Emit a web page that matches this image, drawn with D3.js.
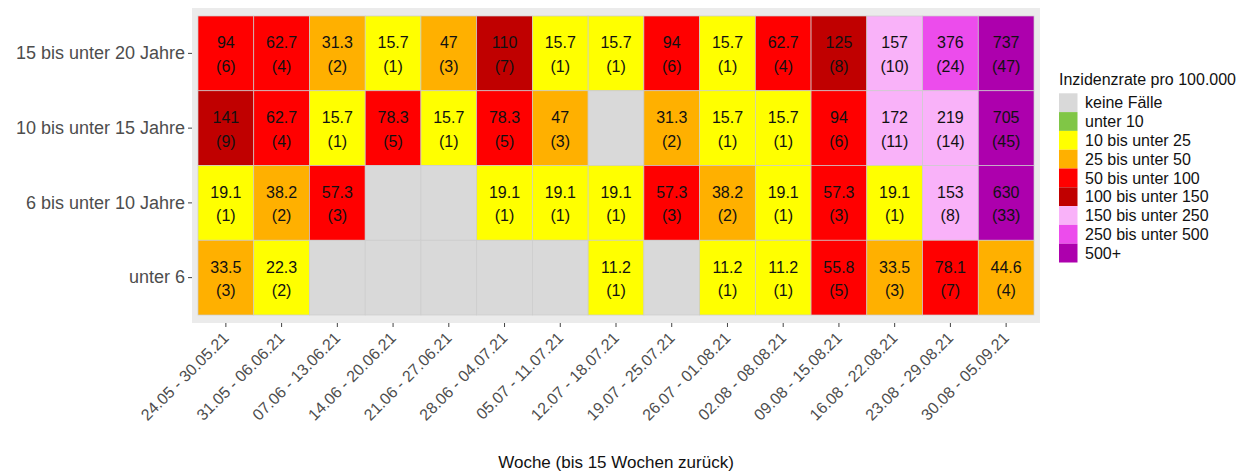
<!DOCTYPE html>
<html>
<head>
<meta charset="utf-8">
<script src="https://cdn.jsdelivr.net/npm/d3@7"></script>
<style>
  html, body { margin: 0; padding: 0; background: #ffffff; }
  svg { display: block; font-family: "Liberation Sans", Arial, sans-serif; }
</style>
</head>
<body>
<svg id="chart" width="1253" height="472"></svg>
<script>
// ---- data ----
const weeks = ["24.05 - 30.05.21", "31.05 - 06.06.21", "07.06 - 13.06.21", "14.06 - 20.06.21",
  "21.06 - 27.06.21", "28.06 - 04.07.21", "05.07 - 11.07.21", "12.07 - 18.07.21",
  "19.07 - 25.07.21", "26.07 - 01.08.21", "02.08 - 08.08.21", "09.08 - 15.08.21",
  "16.08 - 22.08.21", "23.08 - 29.08.21", "30.08 - 05.09.21"];
const ageGroups = ["15 bis unter 20 Jahre", "10 bis unter 15 Jahre", "6 bis unter 10 Jahre", "unter 6"];

const rate15to20 = [94, 62.7, 31.3, 15.7, 47, 110, 15.7, 15.7, 94, 15.7, 62.7, 125, 157, 376, 737];
const cases15to20 = [6, 4, 2, 1, 3, 7, 1, 1, 6, 1, 4, 8, 10, 24, 47];
const rate10to15 = [141, 62.7, 15.7, 78.3, 15.7, 78.3, 47, null, 31.3, 15.7, 15.7, 94, 172, 219, 705];
const cases10to15 = [9, 4, 1, 5, 1, 5, 3, null, 2, 1, 1, 6, 11, 14, 45];
const rate6to10 = [19.1, 38.2, 57.3, null, null, 19.1, 19.1, 19.1, 57.3, 38.2, 19.1, 57.3, 19.1, 153, 630];
const cases6to10 = [1, 2, 3, null, null, 1, 1, 1, 3, 2, 1, 3, 1, 8, 33];
const rateUnder6 = [33.5, 22.3, null, null, null, null, null, 11.2, null, 11.2, 11.2, 55.8, 33.5, 78.1, 44.6];
const casesUnder6 = [3, 2, null, null, null, null, null, 1, null, 1, 1, 5, 3, 7, 4];

const legendLabels = ["keine Fälle", "unter 10", "10 bis unter 25", "25 bis unter 50", "50 bis unter 100",
  "100 bis unter 150", "150 bis unter 250", "250 bis unter 500", "500+"];
const thresholds = [10, 25, 50, 100, 150, 250, 500];
const legendColors = ["#d9d9d9", "#80c646", "#ffff00", "#ffb000", "#ff0000", "#c00000", "#f9b2f9", "#ec4cec", "#ad00ad"];

// ---- build cells ----
const rateRows = [rate15to20, rate10to15, rate6to10, rateUnder6];
const caseRows = [cases15to20, cases10to15, cases6to10, casesUnder6];
const cells = [];
ageGroups.forEach((g, i) => {
  weeks.forEach((w, j) => {
    cells.push({ group: g, week: w, rate: rateRows[i][j], cases: caseRows[i][j] });
  });
});

const svg = d3.select("#chart");

const x = d3.scaleBand().domain(weeks).range([198, 1034]).padding(0);
const y = d3.scaleBand().domain(ageGroups).range([16, 315]).padding(0);
const color = d3.scaleThreshold().domain(thresholds).range(legendColors.slice(1));
const fillOf = d => (d.rate == null ? legendColors[0] : color(d.rate));

// panel background
svg.append("rect")
  .attr("x", 192).attr("y", 8)
  .attr("width", 1040 - 192).attr("height", 323 - 8)
  .attr("fill", "#ebebeb");

// tiles
svg.append("g").selectAll("rect")
  .data(cells)
  .join("rect")
  .attr("x", d => x(d.week))
  .attr("y", d => y(d.group))
  .attr("width", x.bandwidth())
  .attr("height", y.bandwidth())
  .attr("fill", fillOf)
  .attr("stroke", "#cccccc")
  .attr("stroke-width", 0.7);

// tile labels
const lab = svg.append("g").attr("font-size", 16).attr("fill", "#111").attr("text-anchor", "middle");
const withData = cells.filter(d => d.rate != null);
lab.selectAll("text.rate")
  .data(withData)
  .join("text")
  .attr("class", "rate")
  .attr("x", d => x(d.week) + x.bandwidth() / 2)
  .attr("y", d => y(d.group) + y.bandwidth() / 2 - 10.5)
  .attr("dy", "0.35em")
  .text(d => String(d.rate));
lab.selectAll("text.cases")
  .data(withData)
  .join("text")
  .attr("class", "cases")
  .attr("x", d => x(d.week) + x.bandwidth() / 2)
  .attr("y", d => y(d.group) + y.bandwidth() / 2 + 13)
  .attr("dy", "0.35em")
  .text(d => "(" + d.cases + ")");

// y axis
const yAxis = svg.append("g")
  .attr("transform", "translate(192,0)")
  .call(d3.axisLeft(y).tickSize(4).tickPadding(3));
yAxis.select(".domain").remove();
yAxis.selectAll(".tick line").attr("stroke", "#444");
yAxis.selectAll(".tick text")
  .attr("font-size", 18)
  .attr("font-family", "Liberation Sans, Arial, sans-serif")
  .attr("fill", "#4d4d4d");

// x axis
const xAxis = svg.append("g")
  .attr("transform", "translate(0,323)")
  .call(d3.axisBottom(x).tickSize(4).tickPadding(4));
xAxis.select(".domain").remove();
xAxis.selectAll(".tick line").attr("stroke", "#444");
xAxis.selectAll(".tick text")
  .attr("font-size", 16)
  .attr("font-family", "Liberation Sans, Arial, sans-serif")
  .attr("fill", "#4d4d4d")
  .attr("text-anchor", "end")
  .attr("dy", null)
  .attr("y", null)
  .attr("transform", "translate(4,16) rotate(-45)");

// x axis title
svg.append("text")
  .attr("x", (192 + 1040) / 2)
  .attr("y", 468)
  .attr("text-anchor", "middle")
  .attr("font-size", 17)
  .attr("fill", "#111")
  .text("Woche (bis 15 Wochen zurück)");

// legend
const leg = svg.append("g").attr("transform", "translate(1059,0)");
leg.append("text")
  .attr("x", 0).attr("y", 85)
  .attr("font-size", 16)
  .attr("fill", "#111")
  .text("Inzidenzrate pro 100.000");
const keyH = 18.8;
const ly = d3.scaleBand().domain(legendLabels).range([93.3, 93.3 + keyH * legendLabels.length]);
leg.selectAll("rect.key")
  .data(legendLabels)
  .join("rect")
  .attr("class", "key")
  .attr("x", 0)
  .attr("y", d => ly(d))
  .attr("width", 18.5)
  .attr("height", ly.bandwidth())
  .attr("fill", (d, i) => legendColors[i]);
leg.selectAll("text.lbl")
  .data(legendLabels)
  .join("text")
  .attr("class", "lbl")
  .attr("x", 26)
  .attr("y", d => ly(d) + ly.bandwidth() / 2)
  .attr("dy", "0.35em")
  .attr("font-size", 16)
  .attr("fill", "#111")
  .text(d => d);
</script>
</body>
</html>
